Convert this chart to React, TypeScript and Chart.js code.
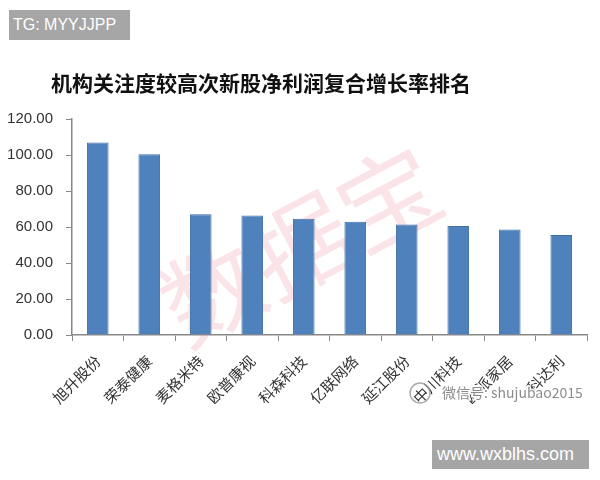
import React, { useEffect, useRef } from "react";
import { Chart, registerables } from "chart.js";

Chart.register(...registerables);

const TITLE = "机构关注度较高次新股净利润复合增长率排名";
const categories = ["旭升股份", "荣泰健康", "麦格米特", "欧普康视", "科森科技", "亿联网络", "延江股份", "中川科技", "欧派家居", "科达利"];
const growthValues = [107.0, 100.4, 67.1, 66.4, 64.6, 62.9, 61.4, 60.6, 58.6, 55.6];
const yMin = 0;
const yMax = 120;
const yStep = 20;

const overlayPlugin = {
  id: "overlay",
  beforeDatasetsDraw(chart: any) {
    const ctx = chart.ctx;
    ctx.save();
    ctx.translate(300, 245);
    ctx.rotate((-28 * Math.PI) / 180);
    ctx.font = '100px "Noto Sans CJK SC"';
    ctx.fillStyle = "rgba(235,120,140,0.2)";
    ctx.textAlign = "center";
    ctx.textBaseline = "middle";
    ctx.fillText("数据宝", 0, 0);
    ctx.restore();
  },
  afterDraw(chart: any) {
    const ctx = chart.ctx;
    ctx.save();
    ctx.font = 'bold 21px "Noto Sans CJK SC"';
    ctx.fillStyle = "#111";
    ctx.textAlign = "center";
    ctx.textBaseline = "middle";
    ctx.fillText(TITLE, 261, 83);
    // wechat watermark
    ctx.strokeStyle = "rgba(150,150,150,0.8)";
    ctx.lineWidth = 1.5;
    ctx.beginPath();
    ctx.arc(420, 393, 10, 0, Math.PI * 2);
    ctx.stroke();
    ctx.font = '14px "Noto Sans CJK SC"';
    ctx.textAlign = "left";
    ctx.lineWidth = 3;
    ctx.strokeStyle = "rgba(255,255,255,0.9)";
    ctx.strokeText("微信号: shujubao2015", 442, 393);
    ctx.fillStyle = "rgba(120,120,120,0.85)";
    ctx.fillText("微信号: shujubao2015", 442, 393);
    ctx.restore();
  },
};

export default function App() {
  const ref = useRef<HTMLCanvasElement | null>(null);
  useEffect(() => {
    if (!ref.current) return;
    const chart = new Chart(ref.current, {
      type: "bar",
      data: {
        labels: categories,
        datasets: [
          {
            data: growthValues,
            backgroundColor: "#4F81BD",
            borderColor: "#3F6FA5",
            borderWidth: 1,
            barPercentage: 0.42,
            categoryPercentage: 1,
          },
        ],
      },
      options: {
        animation: false,
        responsive: false,
        layout: { padding: { top: 119, right: 13, bottom: 0, left: 0 } },
        plugins: { legend: { display: false }, title: { display: false }, tooltip: { enabled: false } },
        scales: {
          x: {
            offset: true,
            afterFit: (s: any) => {
              s.height = 145;
            },
            grid: { offset: true, drawOnChartArea: false, drawTicks: true, tickLength: 6, color: "#888" },
            border: { color: "#888", width: 1.5 },
            ticks: {
              minRotation: 45,
              maxRotation: 45,
              autoSkip: false,
              padding: 11,
              color: "#333",
              font: { family: '"Noto Sans CJK SC"', size: 15 },
            },
          },
          y: {
            min: yMin,
            max: yMax,
            afterFit: (s: any) => {
              s.width = 72;
            },
            grid: { drawOnChartArea: false, drawTicks: true, tickLength: 6, color: "#888" },
            border: { color: "#888", width: 1.5 },
            ticks: {
              stepSize: yStep,
              padding: 13,
              color: "#333",
              font: { family: '"Liberation Sans", Arial', size: 15 },
              callback: (v: any) => Number(v).toFixed(2),
            },
          },
        },
      },
      plugins: [overlayPlugin],
    });
    return () => chart.destroy();
  }, []);

  const boxStyle: React.CSSProperties = {
    position: "absolute",
    background: "#a6a6a6",
    color: "#fff",
    fontFamily: '"Liberation Sans", Arial, sans-serif',
    display: "flex",
    alignItems: "center",
    boxSizing: "border-box",
  };

  return (
    <div style={{ position: "absolute", left: 0, top: 0, width: 600, height: 480, background: "#fff" }}>
      <canvas ref={ref} width={600} height={480} style={{ position: "absolute", left: 0, top: 0 }} />
      <div style={{ ...boxStyle, left: 9, top: 10, width: 121, height: 30, fontSize: 16, paddingLeft: 4 }}>TG: MYYJJPP</div>
      <div style={{ ...boxStyle, left: 432, top: 440, width: 157, height: 29, fontSize: 18, paddingLeft: 5 }}>www.wxblhs.com</div>
    </div>
  );
}
